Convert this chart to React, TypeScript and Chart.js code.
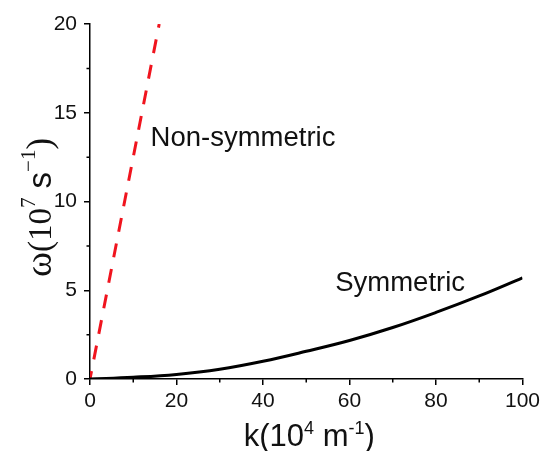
import React, { useEffect, useRef } from "react";
import { Chart, registerables } from "chart.js";
Chart.register(...registerables);

// Data
const symK = [0, 10, 20, 30, 40, 50, 60, 70, 80, 90, 100];
const symW = [0, 0.1, 0.26, 0.55, 1.0, 1.56, 2.17, 2.9, 3.75, 4.68, 5.7];
const nonK = [0, 4, 8, 12, 16];
const nonW = [0, 5, 10, 15, 20];

const xTicks = [0, 20, 40, 60, 80, 100];
const yTicks = [0, 5, 10, 15, 20];
const xMinor = [10, 30, 50, 70, 90];
const yMinor = [2.5, 7.5, 12.5, 17.5];

const annoText = ["Non-symmetric", "Symmetric"];
const annoK = [14, 56.7];
const annoW = [13.1, 4.97];

const SANS = "'Liberation Sans', Arial, sans-serif";
const SERIF = "'Liberation Serif', 'Times New Roman', serif";

type Piece = { t: string; fam: string; size: number; raise: number };

function drawPieces(ctx: CanvasRenderingContext2D, pieces: Piece[], startX: number, baseY: number) {
  let x = startX;
  for (const p of pieces) {
    ctx.font = `${p.size}px ${p.fam}`;
    ctx.fillText(p.t, x, baseY - p.raise);
    x += ctx.measureText(p.t).width;
  }
}
function widthPieces(ctx: CanvasRenderingContext2D, pieces: Piece[]) {
  let w = 0;
  for (const p of pieces) {
    ctx.font = `${p.size}px ${p.fam}`;
    w += ctx.measureText(p.t).width;
  }
  return w;
}

const decorPlugin = {
  id: "decor",
  afterDraw(chart: any) {
    const ctx: CanvasRenderingContext2D = chart.ctx;
    const xs = chart.scales.x;
    const ys = chart.scales.y;
    const area = chart.chartArea;
    ctx.save();
    // minor ticks
    ctx.strokeStyle = "#000";
    ctx.lineWidth = 1.5;
    ctx.beginPath();
    for (const v of xMinor) {
      const px = xs.getPixelForValue(v);
      ctx.moveTo(px, area.bottom);
      ctx.lineTo(px, area.bottom + 3.5);
    }
    for (const v of yMinor) {
      const py = ys.getPixelForValue(v);
      ctx.moveTo(area.left, py);
      ctx.lineTo(area.left - 3.5, py);
    }
    ctx.stroke();

    ctx.fillStyle = "#111";
    ctx.textBaseline = "alphabetic";
    ctx.textAlign = "left";
    // annotations
    ctx.font = `27.5px ${SANS}`;
    for (let i = 0; i < annoText.length; i++) {
      ctx.fillText(annoText[i], xs.getPixelForValue(annoK[i]), ys.getPixelForValue(annoW[i]));
    }

    // x title
    const F = 31;
    const xt: Piece[] = [
      { t: "k(10", fam: SANS, size: F, raise: 0 },
      { t: "4", fam: SANS, size: 18, raise: 12 },
      { t: " m", fam: SANS, size: F, raise: 0 },
      { t: "-1", fam: SANS, size: 18, raise: 12 },
      { t: ")", fam: SANS, size: F, raise: 0 },
    ];
    const xw = widthPieces(ctx, xt);
    const xc = (area.left + area.right) / 2 + 3;
    drawPieces(ctx, xt, xc - xw / 2, area.bottom + 67);

    // y title (rotated)
    const G = 33;
    const yt: Piece[] = [
      { t: "ω", fam: SERIF, size: G + 5, raise: 0 },
      { t: "(10", fam: SERIF, size: G, raise: 0 },
      { t: "7", fam: SERIF, size: 21, raise: 16 },
      { t: " s", fam: SANS, size: G, raise: 0 },
      { t: "−1", fam: SERIF, size: 21, raise: 16 },
      { t: ")", fam: SERIF, size: G + 2, raise: 0 },
    ];
    const yw = widthPieces(ctx, yt);
    const yc = (area.top + area.bottom) / 2 + 6;
    ctx.translate(area.left - 39, yc);
    ctx.rotate(-Math.PI / 2);
    drawPieces(ctx, yt, -yw / 2, 0);
    ctx.restore();
  },
};

export default function App() {
  const ref = useRef<HTMLCanvasElement | null>(null);
  useEffect(() => {
    if (!ref.current) return;
    const chart = new Chart(ref.current, {
      type: "line",
      data: {
        datasets: [
          {
            label: "Symmetric",
            data: symK.map((k, i) => ({ x: k, y: symW[i] })),
            borderColor: "#000",
            borderWidth: 3,
            pointRadius: 0,
            tension: 0.4,
            fill: false,
          },
          {
            label: "Non-symmetric",
            data: nonK.map((k, i) => ({ x: k, y: nonW[i] })),
            borderColor: "#f0141e",
            borderWidth: 3,
            borderDash: [14, 12],
            borderDashOffset: 6,
            pointRadius: 0,
            tension: 0,
            fill: false,
          },
        ],
      },
      options: {
        animation: false,
        responsive: false,
        layout: { padding: { top: 24, right: 19, left: 0, bottom: 0 } },
        plugins: { legend: { display: false }, tooltip: { enabled: false } },
        scales: {
          x: {
            type: "linear",
            min: 0,
            max: 100,
            afterBuildTicks: (s: any) => {
              s.ticks = xTicks.map((v) => ({ value: v }));
            },
            afterFit: (s: any) => {
              s.height = 72;
            },
            ticks: {
              autoSkip: false,
              maxRotation: 0,
              padding: 4,
              color: "#111",
              font: { family: SANS, size: 21 },
            },
            grid: { drawOnChartArea: false, drawTicks: true, tickLength: 6, color: "#000", lineWidth: 1.5 },
            border: { display: true, color: "#000", width: 1.5 },
          },
          y: {
            type: "linear",
            min: 0,
            max: 20,
            afterBuildTicks: (s: any) => {
              s.ticks = yTicks.map((v) => ({ value: v }));
            },
            afterFit: (s: any) => {
              s.width = 90;
            },
            ticks: {
              autoSkip: false,
              padding: 7,
              color: "#111",
              font: { family: SANS, size: 21 },
            },
            grid: { drawOnChartArea: false, drawTicks: true, tickLength: 6, color: "#000", lineWidth: 1.5 },
            border: { display: true, color: "#000", width: 1.5 },
          },
        },
      },
      plugins: [decorPlugin],
    } as any);
    return () => chart.destroy();
  }, []);
  return (
    <div style={{ position: "fixed", left: 0, top: 0, width: 544, height: 451, background: "#fff" }}>
      <canvas ref={ref} width={544} height={451} style={{ display: "block" }} />
    </div>
  );
}
